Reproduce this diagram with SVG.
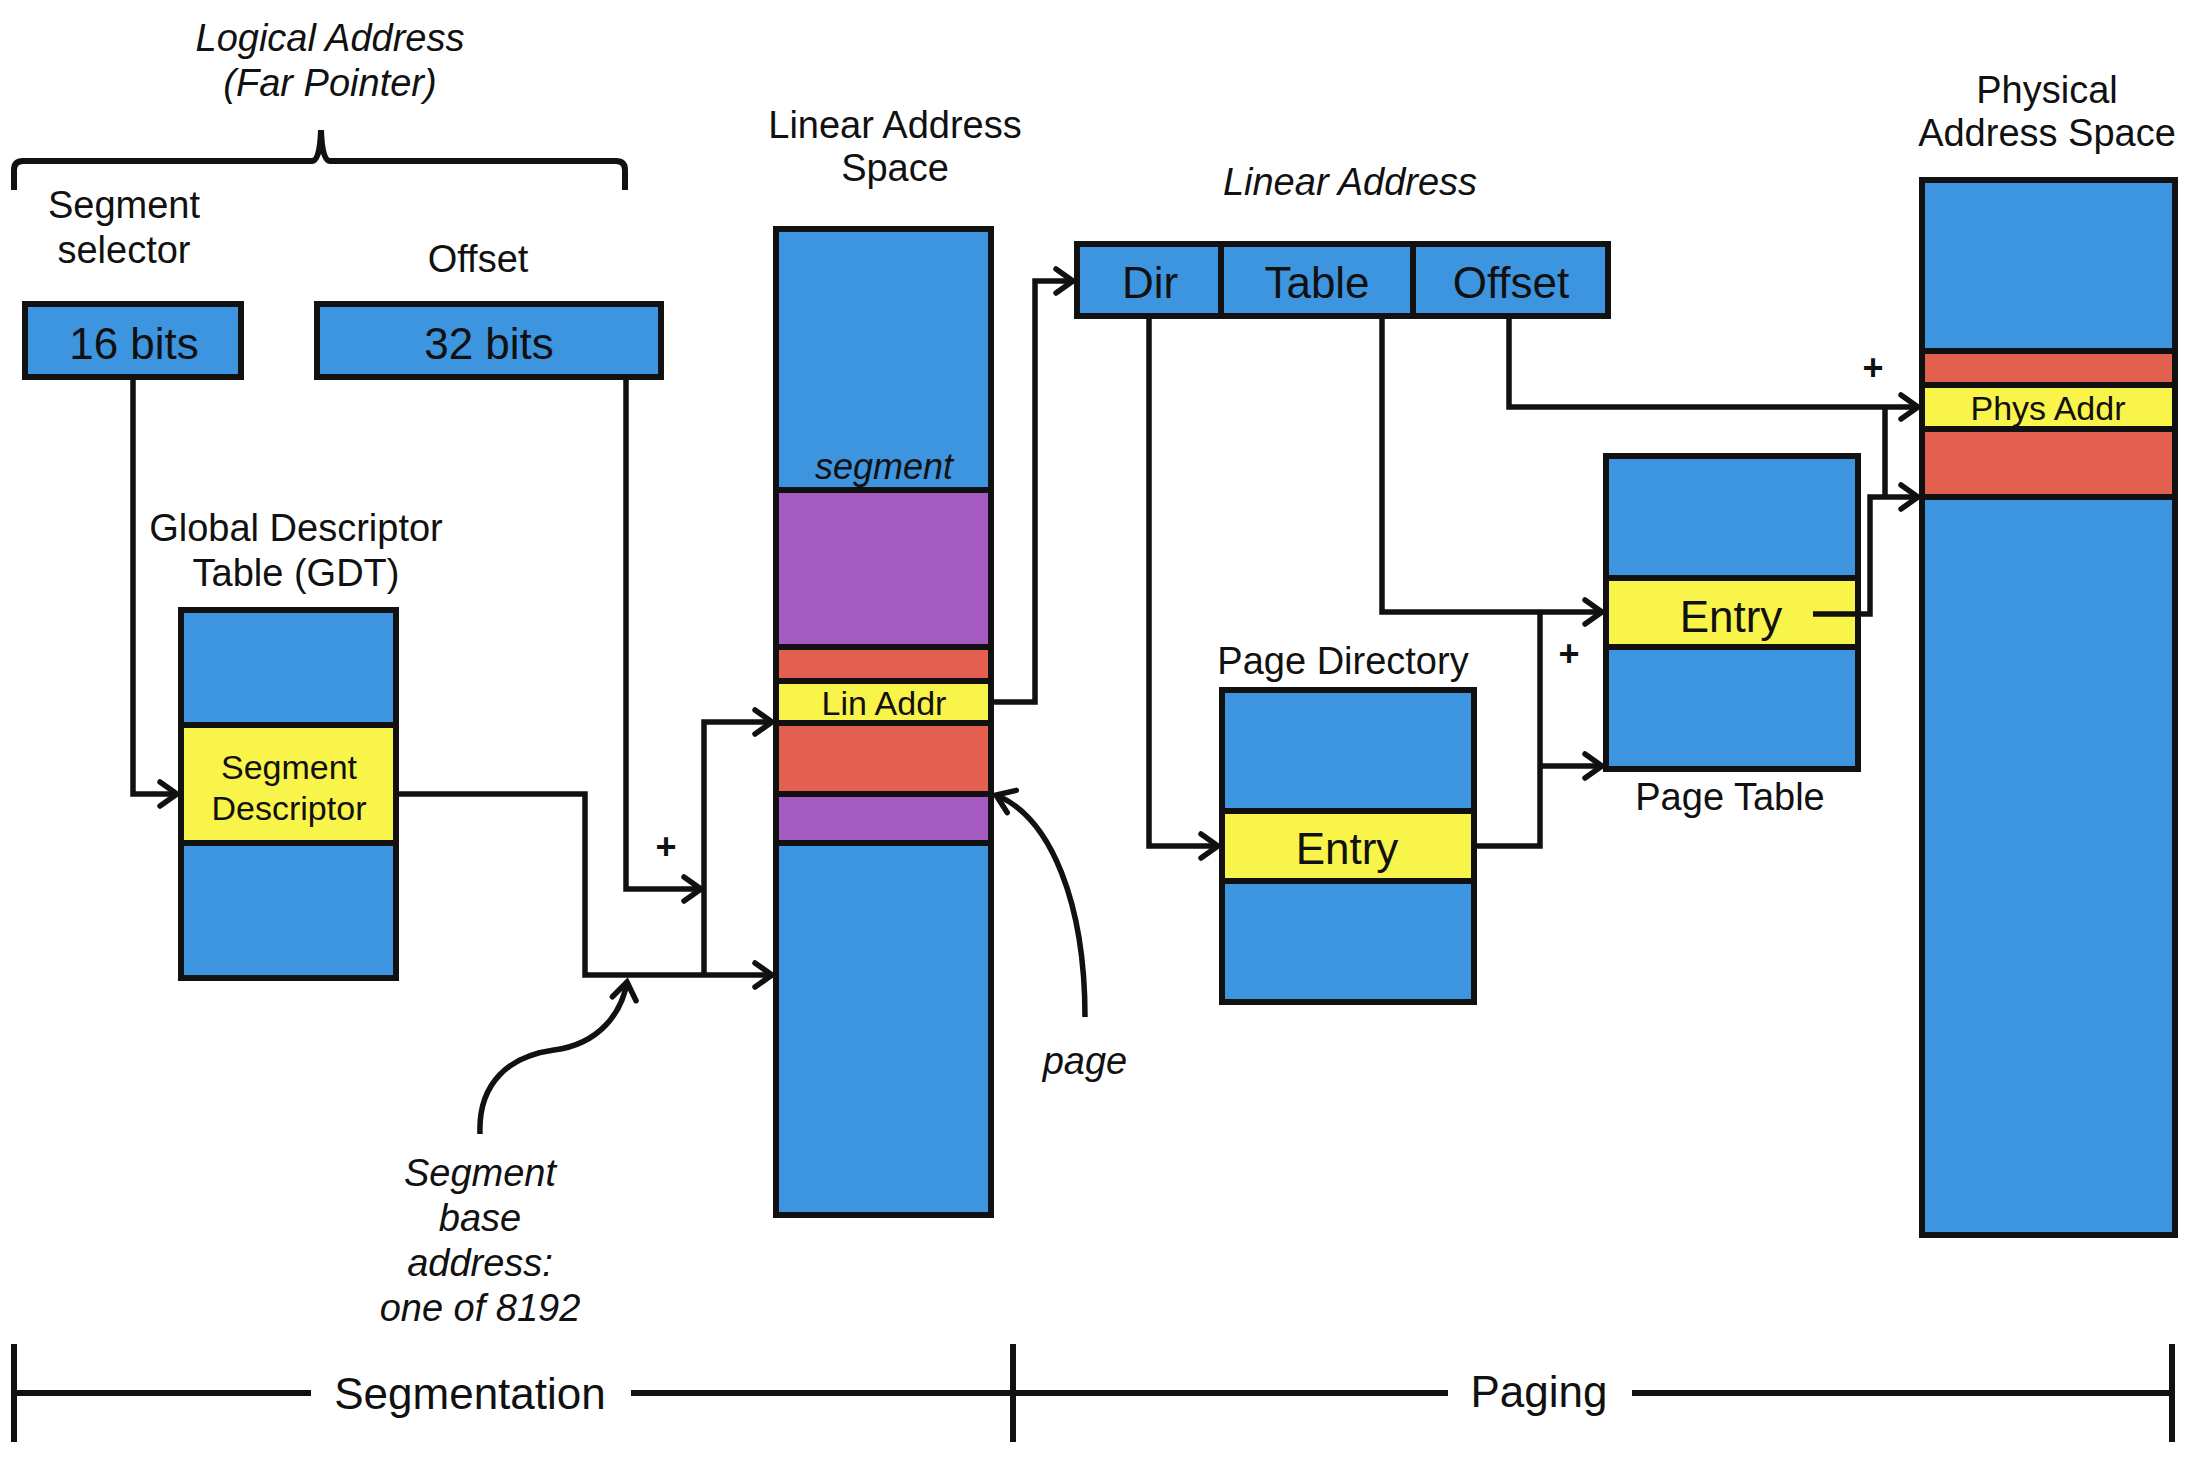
<svg xmlns="http://www.w3.org/2000/svg" width="2200" height="1460" viewBox="0 0 2200 1460">
<defs>
<marker id="ah" markerUnits="userSpaceOnUse" markerWidth="30" markerHeight="30" refX="23" refY="15" orient="auto" viewBox="0 0 30 30">
<path d="M6,3 L23,15 L6,27" fill="none" stroke="#111" stroke-width="5.5" stroke-linecap="round" stroke-linejoin="miter"/>
</marker>
<style>
.t{font-family:"Liberation Sans",Arial,sans-serif;fill:#111;text-anchor:middle;dominant-baseline:central}
.l{font-size:38px}
.b{font-size:44px}
.s{font-size:34px}
.i{font-style:italic}
.p{font-size:36px;font-weight:bold}
.bl{fill:#3e95df;stroke:#111;stroke-width:6}
.pu{fill:#a45ac0;stroke:#111;stroke-width:6}
.rd{fill:#e35f50;stroke:#111;stroke-width:6}
.ye{fill:#f8f44a;stroke:#111;stroke-width:6}
.w{fill:none;stroke:#111;stroke-width:6}
.c{fill:none;stroke:#111;stroke-width:5.5;stroke-linejoin:miter}
.ca{fill:none;stroke:#111;stroke-width:5.5;stroke-linejoin:miter;marker-end:url(#ah)}
</style>
</defs>
<rect width="2200" height="1460" fill="#ffffff"/>

<g id="logical-address">
<text class="t l i" x="330" y="38">Logical Address</text>
<text class="t l i" x="330" y="83">(Far Pointer)</text>
<path class="w" d="M14 190 L14 170 Q14 161 23 161 L312 161 Q320 161 321 130 Q322 161 330 161 L616 161 Q625 161 625 170 L625 190"/>
</g>

<g id="segment-selector">
<text class="t l" x="124" y="205">Segment</text>
<text class="t l" x="124" y="250">selector</text>
<rect class="bl" x="25" y="304" width="216" height="73"/>
<text class="t b" x="134" y="343">16 bits</text>
</g>

<g id="offset">
<text class="t l" x="478" y="259">Offset</text>
<rect class="bl" x="317" y="304" width="344" height="73"/>
<text class="t b" x="489" y="343">32 bits</text>
</g>

<g id="gdt">
<text class="t l" x="296" y="528">Global Descriptor</text>
<text class="t l" x="296" y="573">Table (GDT)</text>
<rect class="bl" x="181" y="610" width="215" height="368"/>
<rect class="ye" x="181" y="725" width="215" height="118"/>
<text class="t s" x="289" y="767">Segment</text>
<text class="t s" x="289" y="808">Descriptor</text>
</g>

<g id="linear-address-space">
<text class="t l" x="895" y="125">Linear Address</text>
<text class="t l" x="895" y="168">Space</text>
<rect class="bl" x="776" y="229" width="215" height="986"/>
<rect class="pu" x="776" y="490" width="215" height="157"/>
<rect class="rd" x="776" y="647" width="215" height="34"/>
<rect class="ye" x="776" y="681" width="215" height="42"/>
<rect class="rd" x="776" y="723" width="215" height="71"/>
<rect class="pu" x="776" y="794" width="215" height="49"/>
<text class="t l i" x="884" y="466" style="font-size:36px">segment</text>
<text class="t s" x="884" y="703">Lin Addr</text>
</g>

<g id="linear-address">
<text class="t l i" x="1350" y="182">Linear Address</text>
<rect class="bl" x="1077" y="244" width="531" height="72"/>
<line class="w" x1="1221" y1="244" x2="1221" y2="316"/>
<line class="w" x1="1413" y1="244" x2="1413" y2="316"/>
<text class="t b" x="1150" y="282">Dir</text>
<text class="t b" x="1317" y="282">Table</text>
<text class="t b" x="1511" y="282">Offset</text>
</g>

<g id="page-directory">
<text class="t l" x="1343" y="661">Page Directory</text>
<rect class="bl" x="1222" y="690" width="252" height="312"/>
<rect class="ye" x="1222" y="811" width="252" height="70"/>
<text class="t b" x="1347" y="848">Entry</text>
</g>

<g id="page-table">
<rect class="bl" x="1606" y="456" width="252" height="313"/>
<rect class="ye" x="1606" y="578" width="252" height="69"/>
<text class="t b" x="1731" y="616">Entry</text>
<text class="t l" x="1730" y="797">Page Table</text>
</g>

<g id="physical-address-space">
<text class="t l" x="2047" y="90">Physical</text>
<text class="t l" x="2047" y="133">Address Space</text>
<rect class="bl" x="1922" y="180" width="253" height="1055"/>
<rect class="rd" x="1922" y="351" width="253" height="34"/>
<rect class="ye" x="1922" y="385" width="253" height="44"/>
<rect class="rd" x="1922" y="429" width="253" height="68"/>
<text class="t s" x="2048" y="408">Phys Addr</text>
</g>

<g id="connectors">
<path class="ca" d="M133 377 V794 H177"/>
<path class="ca" d="M396 794 H585 V975 H772"/>
<path class="ca" d="M704 975 V722 H772"/>
<path class="ca" d="M626 377 V889 H701"/>
<path class="ca" d="M991 702 H1035 V281 H1073"/>
<path class="ca" d="M1149 316 V846 H1218"/>
<path class="ca" d="M1382 316 V612 H1602"/>
<path class="c" d="M1474 846 H1540 V612"/>
<path class="ca" d="M1540 766 H1602"/>
<path class="ca" d="M1509 316 V407 H1918"/>
<path class="ca" d="M1813 614 H1870 V497 H1918"/>
<path class="c" d="M1885 407 V497"/>
<path class="ca" d="M480 1134 C 478 1082, 510 1056, 554 1050 C 600 1044, 622 1012, 627 982"/>
<path class="ca" d="M1085 1017 C 1085 905, 1052 818, 996 795"/>
</g>

<g id="annotations">
<text class="t p" x="666" y="846">+</text>
<text class="t p" x="1569" y="653">+</text>
<text class="t p" x="1873" y="367">+</text>
<text class="t l i" x="480" y="1173">Segment</text>
<text class="t l i" x="480" y="1218">base</text>
<text class="t l i" x="480" y="1263">address:</text>
<text class="t l i" x="480" y="1308">one of 8192</text>
<text class="t l i" x="1085" y="1061">page</text>
</g>

<g id="phase-bar">
<path class="w" d="M14 1393 H311 M631 1393 H1448 M1632 1393 H2172"/>
<path class="w" d="M14 1344 V1442 M1013 1344 V1442 M2172 1344 V1442"/>
<text class="t b" x="470" y="1393">Segmentation</text>
<text class="t b" x="1539" y="1391">Paging</text>
</g>
</svg>
